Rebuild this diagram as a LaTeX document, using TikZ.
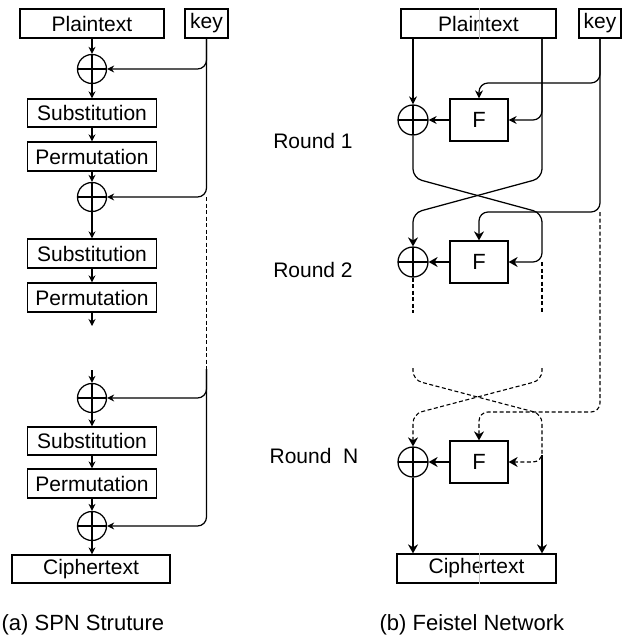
\documentclass[tikz,border=0pt]{standalone}
\usepackage{fontspec}
\setmainfont{Liberation Sans}
\usetikzlibrary{arrows.meta,calc}
\newcommand\mytxt{\fontsize{21}{25}\selectfont}
\newcommand\mycap{\fontsize{22}{26}\selectfont}
\newcommand\myF{\fontsize{22}{26}\selectfont}
\begin{document}
\begin{tikzpicture}[x=1pt,y=-1pt,line width=1.25pt,
  blk/.style={draw,inner sep=0pt,font=\mytxt},
  fbx/.style={draw,inner sep=0pt,font=\myF,minimum width=58pt,minimum height=42pt},
  xorn/.style={circle,draw,minimum size=29pt,inner sep=0pt,
    path picture={\draw (path picture bounding box.north) -- (path picture bounding box.south)
      (path picture bounding box.west) -- (path picture bounding box.east);}},
  arr/.style={-{Stealth[length=7pt,width=7pt]}},
  arrM/.style={-{Stealth[length=8pt,width=8pt]}},
  arrL/.style={-{Stealth[length=9pt,width=10pt]}},
  dsh/.style={line width=1.1pt,dash pattern=on 4pt off 2.5pt},
  rnd/.style={rounded corners=9pt},
  lbl/.style={font=\mytxt,inner sep=0pt}]
\useasboundingbox (0,0) rectangle (630,640);

% ---------------- (a) SPN ----------------
\node[blk,minimum width=144pt,minimum height=29pt] (pl) at (92,23.5) {Plaintext};
\node[blk,minimum width=43pt,minimum height=29pt] (k) at (206.5,23.5) {key};
\node[xorn] (x1) at (92,69) {};
\node[blk,minimum width=129pt,minimum height=28pt] (s1) at (92,113) {Substitution};
\node[blk,minimum width=129pt,minimum height=29pt] (p1) at (92,156.5) {Permutation};
\node[xorn] (x2) at (92,197) {};
\node[blk,minimum width=129pt,minimum height=29pt] (s2) at (92,253.5) {Substitution};
\node[blk,minimum width=129pt,minimum height=29pt] (p2) at (92,297.5) {Permutation};
\coordinate (e1) at (92,326);
\coordinate (e2) at (92,370);
\node[xorn] (x3) at (92,398) {};
\node[blk,minimum width=129pt,minimum height=28pt] (s3) at (92,441) {Substitution};
\node[blk,minimum width=129pt,minimum height=29pt] (p3) at (92,483.5) {Permutation};
\node[xorn] (x4) at (92,526) {};
\node[blk,minimum width=158pt,minimum height=28pt] (c) at (91,569) {Ciphertext};

\draw[arr] (pl) -- (x1);
\draw[arr] (x1) -- (s1);
\draw[arr] (s1) -- (p1);
\draw[arr] (p1) -- (x2);
\draw[arr] (x2) -- (s2);
\draw[arr] (s2) -- (p2);
\draw[arr] (p2) -- (e1);
\draw[arr] (e2) -- (x3);
\draw[arr] (x3) -- (s3);
\draw[arr] (s3) -- (p3);
\draw[arr] (p3) -- (x4);
\draw[arr] (x4.south) -- (x4.south |- c.north);

\coordinate (kd1) at (k.south |- x2.east);
\coordinate (kd2) at (206.5,369);
\draw[arr,rnd] (k.south) |- (x1.east);
\draw[arr,rnd] (k.south) |- (x2.east);
\draw[dsh] (kd1) -- (kd2);
\draw[arr,rnd] (kd2) |- (x3.east);
\draw[arr,rnd] (kd2) |- (x4.east);

\node[font=\mycap,anchor=west,inner sep=0pt] (capa) at (1,625) {(a) SPN Struture};

% ---------------- (b) Feistel ----------------
\node[blk,minimum width=155pt,minimum height=29pt] (plR) at (478.5,23.5) {Plaintext};
\node[blk,minimum width=42pt,minimum height=29pt] (kR) at (600,23.5) {key};
\node[xorn,minimum size=30pt] (y1) at (413,120) {};
\node[fbx] (f1) at (479,120) {F};
\node[xorn,minimum size=30pt] (y2) at (413,262) {};
\node[fbx] (f2) at (479,262) {F};
\node[xorn,minimum size=30pt] (y3) at (413,462) {};
\node[fbx] (f3) at (479,462) {F};
\node[blk,minimum width=159pt,minimum height=29pt] (cR) at (476.5,568.5) {Ciphertext};
\draw[black!22,line width=0.6pt] (plR.north -| f1) -- (plR.south -| f1);
\draw[black!22,line width=0.6pt] (cR.north -| f3) -- (cR.south -| f3);

\node[lbl] (r1) at (313,141) {Round 1};
\node[lbl] (r2) at (313,270) {Round 2};
\node[lbl] (rn) at (314,456) {Round\ \ N};

% round 1
\coordinate (rt) at (542,38);
\coordinate (ka) at (600,83);
\draw[arrM] (plR.south -| y1) -- (y1.north);
\draw[arrM,rnd] (rt) |- (f1.east);
\draw[arrM,rnd] (kR.south) -- (ka) -| (f1.north);
\draw[arrM] (f1) -- (y1);

% crossing 1 -> round 2
\coordinate (la1) at (413,178);
\coordinate (la2) at (542,213);
\coordinate (ra1) at (542,178);
\coordinate (ra2) at (413,213);
\coordinate (kb) at (600,212);
\draw[arrL,rnd] (y1.south) -- (la1) -- (la2) |- (f2.east);
\draw[arrL,rnd] (rt) -- (ra1) -- (ra2) -- (y2.north);
\draw[arrL,rnd] (kR.south) -- (kb) -| (f2.north);
\draw[arrL] (f2) -- (y2);

% dashed continuation
\coordinate (rb) at (f2.east -| rt);
\coordinate (lc) at (413,313);
\coordinate (rc1) at (542,313);
\coordinate (kc) at (600,412);
\draw[dsh] (y2.south) -- (lc);
\draw[dsh] (rb) -- (rc1);

% round N
\coordinate (ld) at (413,368);
\coordinate (ld1) at (413,380);
\coordinate (ld2) at (542,414);
\coordinate (rd) at (542,368);
\coordinate (rd1) at (542,380);
\coordinate (rd2) at (413,414);
\coordinate (rs) at (542,455);
\draw[dsh,arrL,rnd] (kb) -- (kc) -| (f3.north);
\draw[dsh,arrL,rnd] (ld) -- (ld1) -- (ld2) |- (f3.east);
\draw[dsh,arrL,rnd] (rd) -- (rd1) -- (rd2) -- (y3.north);
\draw[arrL] (f3) -- (y3);
\draw[arrL] (y3.south) -- (y3.south |- cR.north);
\draw[arrL] (rs) -- (rs |- cR.north);

\node[font=\mycap,anchor=west,inner sep=0pt] (capb) at (379,625) {(b) Feistel Network};
\end{tikzpicture}
\end{document}
